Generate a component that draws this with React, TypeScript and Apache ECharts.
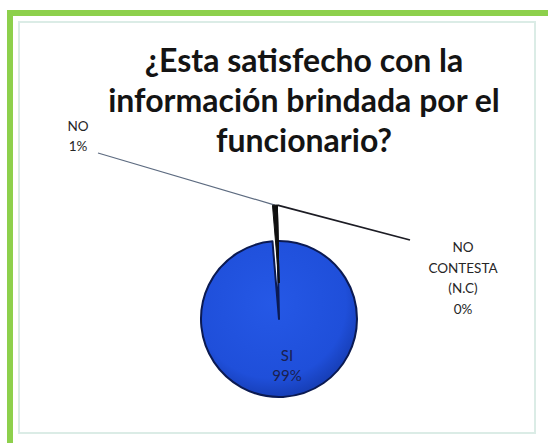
import React, { useEffect, useRef } from "react";
import * as echarts from "echarts";

const titleLines = ["¿Esta satisfecho con la", "información brindada por el", "funcionario?"];
const categories = ["SI", "NO", "NO CONTESTA (N.C)"];
const values = [99, 1, 0];
const percentLabels = ["99%", "1%", "0%"];
const explodedIndex = [1, 2];

export default function App() {
  const ref = useRef<HTMLDivElement>(null);
  useEffect(() => {
    const chart = echarts.init(ref.current!, null, { renderer: "svg" });
    const labelPos: Record<number, { x: number; y: number }> = {
      0: { x: 287, y: 365 },
      1: { x: 78, y: 136 },
      2: { x: 463, y: 278 },
    };
    const lineEnd: Record<number, number[]> = {
      1: [98, 153],
      2: [410, 240],
    };
    const lineStyles: Record<number, any> = {
      1: { color: "#5d6b80", width: 1.2 },
      2: { color: "#1c1c24", width: 1.8 },
    };
    const blueFill = {
      type: "radial",
      x: 0.45,
      y: 0.4,
      r: 0.6,
      colorStops: [
        { offset: 0, color: "#2558e6" },
        { offset: 0.8, color: "#1f4fda" },
        { offset: 1, color: "#173fb8" },
      ],
    };
    const commonLabel = {
      show: true,
      fontFamily: "Lato",
      fontSize: 13.5,
      lineHeight: 20.5,
      color: "#262626",
    };
    const layoutFn = (params: any) => {
      const i = params.dataIndex;
      const p = labelPos[i];
      const res: any = { x: p.x, y: p.y, align: "center", verticalAlign: "middle" };
      if (lineEnd[i] && params.labelLinePoints) {
        res.labelLinePoints = [params.labelLinePoints[0], lineEnd[i]];
      }
      return res;
    };
    const base = {
      type: "pie",
      radius: 78,
      startAngle: 91.2,
      clockwise: true,
      silent: true,
      avoidLabelOverlap: false,
      label: commonLabel,
      labelLine: { show: true, length: 20, length2: 20 },
      labelLayout: layoutFn,
    };
    chart.setOption({
      animation: false,
      title: {
        text: titleLines.join("\n"),
        left: 304,
        top: 39,
        padding: 0,
        textAlign: "center",
        textStyle: {
          fontFamily: "Lato",
          fontWeight: "bold",
          fontSize: 32,
          lineHeight: 40,
          color: "#141414",
        },
      },
      graphic: [
        {
          type: "rect",
          silent: true,
          shape: { x: 10, y: 13, width: 620, height: 520 },
          style: { fill: "none", stroke: "#8dd04c", lineWidth: 6 },
        },
        {
          type: "rect",
          silent: true,
          shape: { x: 19, y: 22, width: 516, height: 411 },
          style: { fill: "none", stroke: "#dbece6", lineWidth: 2 },
        },
      ],
      series: [
        {
          ...base,
          center: [279, 319],
          data: categories.map((c, i) => {
            const inBase = !explodedIndex.includes(i);
            return {
              name: c,
              value: values[i],
              itemStyle: inBase
                ? { color: blueFill, borderColor: "#0b1a52", borderWidth: 2 }
                : { color: "rgba(0,0,0,0)", borderWidth: 0 },
              label: inBase
                ? { show: true, formatter: c + "\n" + percentLabels[i], color: "#1a2050", fontSize: 15 }
                : { show: false },
              labelLine: { show: false },
            };
          }),
        },
        {
          ...base,
          center: [279, 283],
          data: categories.map((c, i) => {
            const exploded = explodedIndex.includes(i);
            return {
              name: c,
              value: values[i],
              itemStyle: exploded
                ? { color: "#111111", borderColor: "#111111", borderWidth: 1 }
                : { color: "rgba(0,0,0,0)", borderWidth: 0 },
              label: exploded
                ? { show: true, formatter: c.split(" ").join("\n") + "\n" + percentLabels[i] }
                : { show: false },
              labelLine: { show: exploded, lineStyle: lineStyles[i] },
            };
          }),
        },
      ],
    });
    return () => chart.dispose();
  }, []);
  return (
    <div
      ref={ref}
      style={{ position: "absolute", left: 0, top: 0, width: 548, height: 443, background: "#ffffff" }}
    />
  );
}
